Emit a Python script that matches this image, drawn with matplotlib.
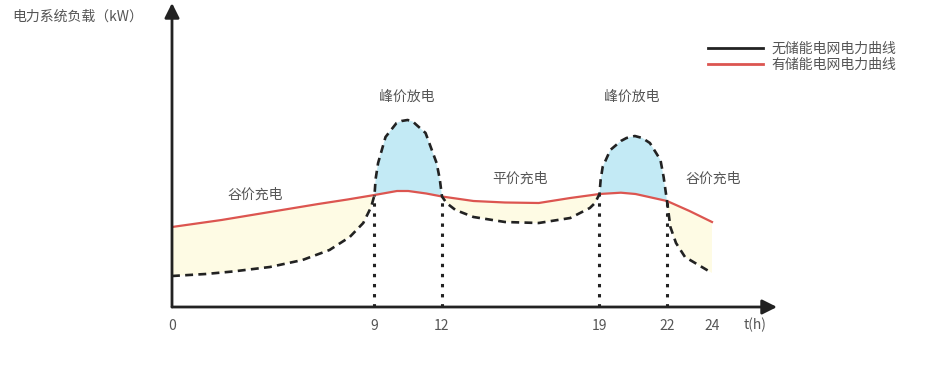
"""Load curve with and without energy storage (peak shaving / valley filling)."""
import numpy as np
import matplotlib

matplotlib.use("Agg")
import matplotlib.pyplot as plt
from matplotlib.lines import Line2D

plt.rcParams["font.family"] = ["Noto Sans CJK SC", "DejaVu Sans"]

TEXT_COLOR = "#555555"
RED = "#dc5550"
BLACK = "#222222"
YELLOW_FILL = "#fefbe4"
BLUE_FILL = "#c3eaf5"

# grid load with storage (red line)
hours_storage = [0, 2.2, 4.35, 6.5, 7.8, 9, 10, 10.5, 11.3, 12,
                 13.4, 14.8, 16.3, 17.7, 19, 19.95, 20.6, 21.2, 22, 23, 24]
load_storage = [80, 87, 95, 103, 107.5, 112, 116, 116, 113.5, 110.5,
                106, 104.5, 104, 109, 113, 114.3, 113, 110, 106, 96, 85]

# grid load without storage (black dashed line)
hours_no_storage = [0, 1.5, 2.7, 4.35, 5.8, 7.0, 7.9, 8.5, 8.85, 9,
                    9.05, 9.16, 9.49, 9.98, 10.2, 10.47, 10.7, 10.87, 11.27,
                    11.76, 11.9, 12,
                    12.2, 12.6, 13.4, 14.8, 16.3, 17.7, 18.57, 18.8, 19,
                    19.05, 19.14, 19.48, 19.95, 20.2, 20.57, 20.9, 21.24,
                    21.71, 21.85, 22,
                    22.15, 22.4, 22.8, 23.4, 24]
load_no_storage = [31, 33, 35.5, 40, 47, 57, 70, 84, 100, 112,
                   128, 144, 170, 184, 186, 187, 185.5, 182, 174,
                   144, 128, 110.5,
                   104, 97, 90, 85, 84, 89, 99, 104, 113,
                   127, 140, 157, 166, 169, 171, 169, 164,
                   147, 130, 106,
                   80, 64, 50, 42, 34]

switch_hours = [9, 12, 19, 22]
tick_hours = [0, 9, 12, 19, 22, 24]

fig = plt.figure(figsize=(9.29, 3.65), dpi=100)
ax = fig.add_axes([172 / 929, 58 / 365, (777 - 172) / 929, (307 - 3) / 365])
ax.set_xlim(0, (777 - 172) / 22.5)
ax.set_ylim(0, 304)

t = np.array(hours_no_storage)
black = np.array(load_no_storage)
red_on_t = np.interp(t, hours_storage, load_storage)

ax.fill_between(t, black, red_on_t, where=black <= red_on_t + 1e-9,
                color=YELLOW_FILL, interpolate=True, lw=0)
ax.fill_between(t, black, red_on_t, where=black >= red_on_t - 1e-9,
                color=BLUE_FILL, interpolate=True, lw=0)

ax.plot(hours_storage, load_storage, color=RED, lw=1.6, zorder=3)
ax.plot(t, black, color=BLACK, lw=1.9, ls=(0, (3, 2)), zorder=4)

switch_loads = np.interp(switch_hours, hours_storage, load_storage)
ax.vlines(switch_hours, 0, switch_loads, colors=BLACK, lw=2.2,
          linestyles=[(0, (1.1, 2.2))], zorder=4)

# axes drawn as arrows
for sp in ax.spines.values():
    sp.set_visible(False)
arrow = dict(arrowstyle="-|>", lw=2, color=BLACK, mutation_scale=22,
             shrinkA=0, shrinkB=0)
ax.annotate("", xy=(0, 1), xytext=(0, 0), xycoords="axes fraction",
            arrowprops=arrow)
ax.annotate("", xy=(1, 0), xytext=(0, 0), xycoords="axes fraction",
            arrowprops=arrow)

ax.set_yticks([])
ax.set_xticks(tick_hours)
ax.set_xticklabels([str(h) for h in tick_hours])
ax.tick_params(axis="x", length=0, pad=9, labelsize=10, labelcolor=TEXT_COLOR)
ax.text(25.9, -18, "t(h)", ha="center", va="center", fontsize=10,
        color=TEXT_COLOR)

labels = [
    (10.44, 210, "峰价放电"),
    (20.44, 210, "峰价放电"),
    (3.69, 112, "谷价充电"),
    (15.47, 128, "平价充电"),
    (24.04, 128, "谷价充电"),
]
for x, y, s in labels:
    ax.text(x, y, s, ha="center", va="center", fontsize=10, color=TEXT_COLOR)

fig.text(12 / 929, 1 - 17 / 365, "电力系统负载（kW）", ha="left", va="center",
         fontsize=10, color=TEXT_COLOR)

handles = [Line2D([], [], color=BLACK, lw=2),
           Line2D([], [], color=RED, lw=2)]
fig.legend(handles, ["无储能电网电力曲线", "有储能电网电力曲线"],
           loc="upper left", bbox_to_anchor=(695 / 929, 1 - 29 / 365),
           frameon=False, fontsize=10, handlelength=4, handletextpad=0.6,
           labelspacing=0.2, labelcolor=TEXT_COLOR)

fig.savefig("out.png", dpi=100)
